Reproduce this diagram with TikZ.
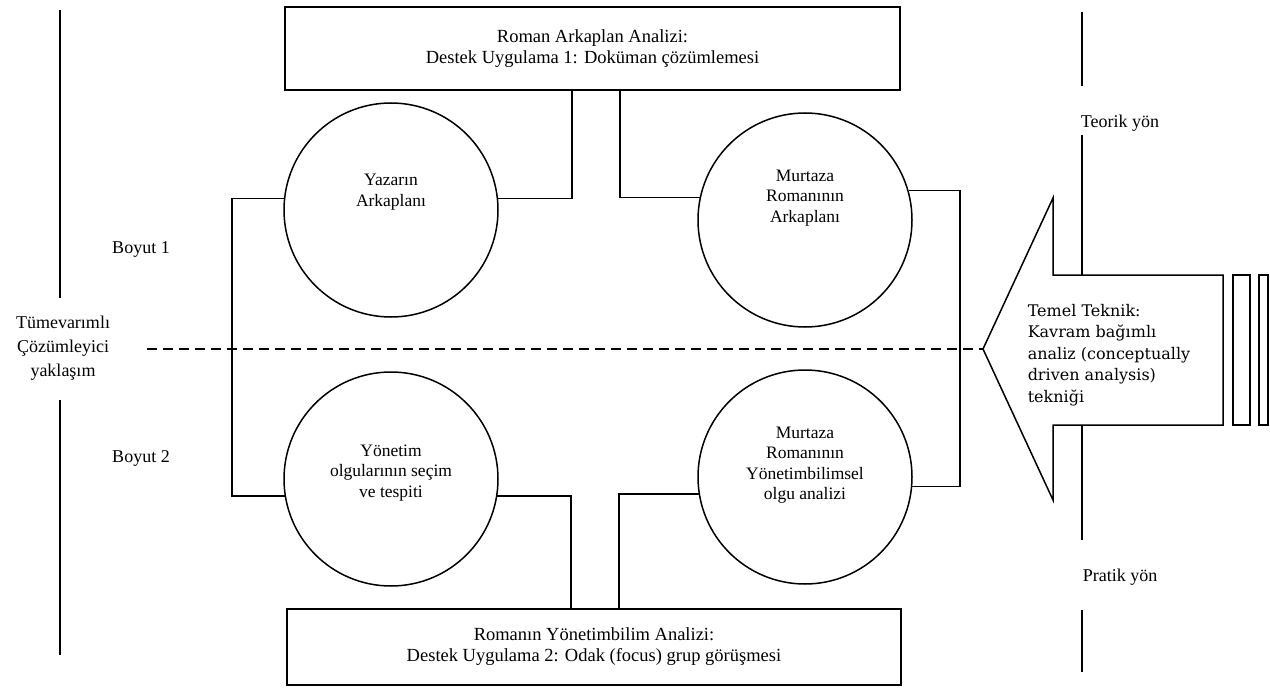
\documentclass[tikz,border=0pt]{standalone}
\usepackage{fontspec}
\setmainfont{Liberation Serif}
\newfontfamily\okfont{DejaVu Serif}
\usetikzlibrary{calc,positioning}

\begin{document}
\begin{tikzpicture}[x=1pt,y=-1pt,line width=1.5pt,
  kutu/.style={draw,rectangle,align=center,inner sep=0pt,font=\fontsize{18.5}{21}\selectfont},
  daire/.style={draw,circle,minimum size=214pt,inner sep=0pt},
  yazi/.style={align=center,inner sep=0pt,font=\fontsize{17.5}{20.5}\selectfont},
  etiket/.style={align=center,inner sep=0pt,font=\fontsize{18}{24}\selectfont}]

\useasboundingbox (0,0) rectangle (1270,690);

\node[kutu,minimum width=615pt,minimum height=83pt] (ust) at (592.5,48.5)
  {Roman Arkaplan Analizi:\\Destek Uygulama 1: Doküman çözümlemesi};
\node[kutu,minimum width=614pt,minimum height=76pt] (alt) at (594,647)
  {Romanın Yönetimbilim Analizi:\\Destek Uygulama 2: Odak (focus) grup görüşmesi};

\foreach \n/\x/\y/\d/\txt in {
  c1/391/210/18/{Yazarın\\Arkaplanı},
  c2/805/220/22/{Murtaza\\Romanının\\Arkaplanı},
  c3/391/479/6/{Yönetim\\olgularının seçim\\ve tespiti},
  c4/805/477/12/{Murtaza\\Romanının\\Yönetimbilimsel\\olgu analizi}}
{
  \node[daire] (\n) at (\x,\y) {};
  \node[yazi] (t\n) at ([yshift=\d pt]\n) {\txt};
}

\coordinate (sol) at (232,0);
\coordinate (sag) at (960,0);

\draw (c1.174) -- (c1.174 -| sol) |- (c3.189);
\draw (c1.6) -| ([xshift=-20.5pt]ust.south);
\draw ([xshift=27.5pt]ust.south) |- (c2.168);
\draw (c2.16) -- (c2.16 -| sag) |- (c4.355);
\draw (c3.351) -| ([xshift=-23pt]alt.north);
\draw ([xshift=25pt]alt.north) |- (c4.189);

\node[etiket] (yaklasim) at (63,348) {Tümevarımlı\\Çözümleyici\\yaklaşım};
\node[etiket] (boyut1) at (141,250) {Boyut 1};
\node[etiket] (boyut2) at (141,458) {Boyut 2};
\node[etiket] (teorik) at (1120,123) {Teorik yön};
\node[etiket] (pratik) at (1120,577) {Pratik yön};

\draw (60,10) -- (60,298);
\draw (60,400) -- (60,655);
\draw (1082,12) -- (1082,86);
\draw (1082,135) -- (1082,275);
\draw (1082,425) -- (1082,540);
\draw (1082,610) -- (1082,672);

\coordinate (uc) at (983,349);
\coordinate (ks) at (147,349);
\draw[dash pattern=on 10pt off 6pt] (ks) -- (uc);
\draw (uc) -- (1053,198) -- (1053,275) -- (1223,275) -- (1223,425)
  -- (1053,425) -- (1053,500) -- cycle;
\node[font=\okfont\fontsize{16}{21.5}\selectfont,align=left,anchor=west,inner sep=0pt]
  (teknik) at (1027,355)
  {Temel Teknik:\\Kavram bağımlı\\analiz (conceptually\\driven analysis)\\tekniği};
\draw (1233,275) rectangle (1250,425);
\draw (1259,275) rectangle (1268,425);

\end{tikzpicture}
\end{document}
